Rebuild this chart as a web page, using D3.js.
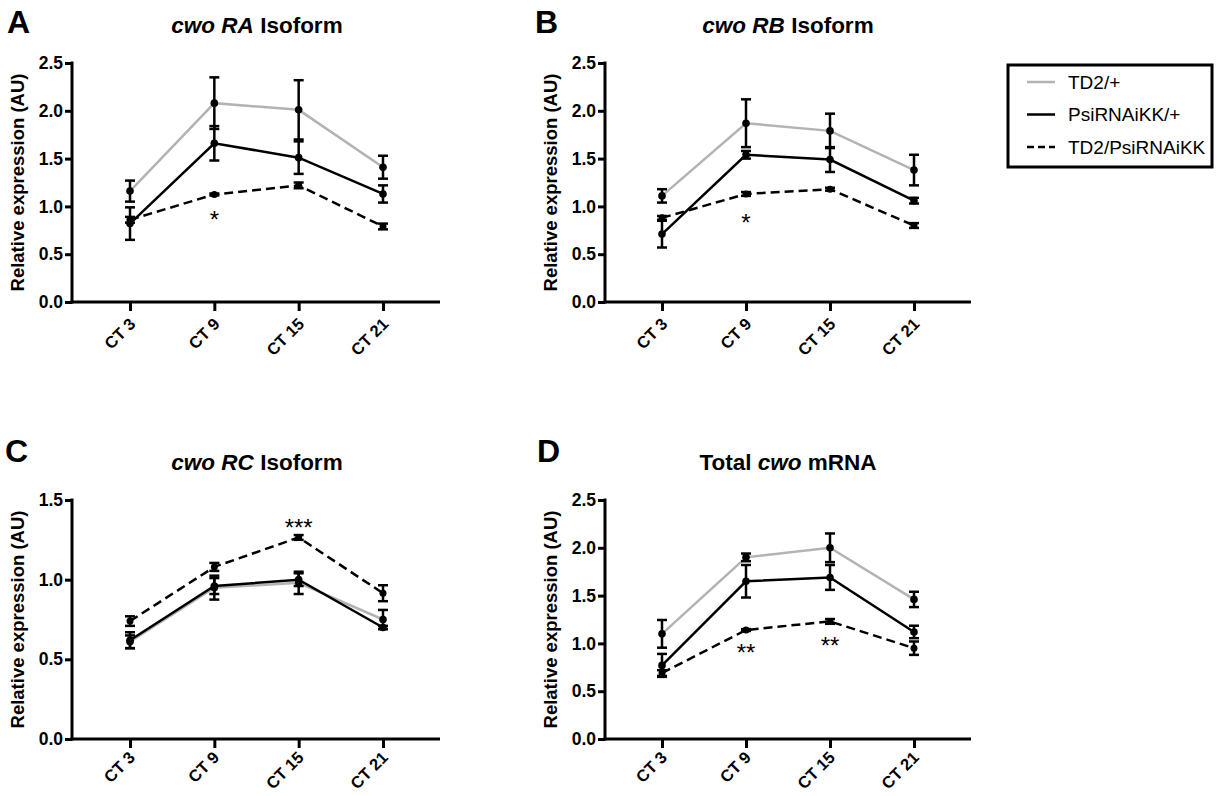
<!DOCTYPE html>
<html>
<head>
<meta charset="utf-8">
<script src="https://cdn.jsdelivr.net/npm/d3@7"></script>
<style>
  html, body { margin: 0; padding: 0; background: #fff; }
  svg { display: block; }
  text { font-family: "Liberation Sans", Arial, sans-serif; }
</style>
</head>
<body>
<svg id="chart" width="1217" height="796"></svg>
<script>
// ---------------- DATA ----------------
const categories = ["CT 3", "CT 9", "CT 15", "CT 21"];
const seriesNames = ["TD2/+", "PsiRNAiKK/+", "TD2/PsiRNAiKK"];

// Panel A: cwo RA isoform
const A_td2      = [1.16, 2.08, 2.01, 1.41];
const A_td2_sem  = [0.11, 0.27, 0.31, 0.12];
const A_psi      = [0.82, 1.66, 1.51, 1.13];
const A_psi_sem  = [0.17, 0.18, 0.17, 0.09];
const A_cross    = [0.86, 1.125, 1.22, 0.79];
const A_cross_sem= [0.03, 0.01, 0.03, 0.03];

// Panel B: cwo RB isoform
const B_td2      = [1.11, 1.87, 1.79, 1.38];
const B_td2_sem  = [0.07, 0.25, 0.18, 0.16];
const B_psi      = [0.71, 1.54, 1.49, 1.06];
const B_psi_sem  = [0.14, 0.04, 0.13, 0.03];
const B_cross    = [0.88, 1.13, 1.18, 0.80];
const B_cross_sem= [0.02, 0.02, 0.015, 0.025];

// Panel C: cwo RC isoform
const C_td2      = [0.61, 0.95, 0.98, 0.75];
const C_td2_sem  = [0.04, 0.075, 0.07, 0.06];
const C_psi      = [0.62, 0.96, 1.00, 0.70];
const C_psi_sem  = [0.05, 0.05, 0.04, 0.01];
const C_cross    = [0.74, 1.08, 1.265, 0.915];
const C_cross_sem= [0.03, 0.025, 0.015, 0.05];

// Panel D: total cwo mRNA
const D_td2      = [1.10, 1.90, 2.00, 1.46];
const D_td2_sem  = [0.145, 0.04, 0.15, 0.08];
const D_psi      = [0.77, 1.65, 1.69, 1.12];
const D_psi_sem  = [0.12, 0.17, 0.13, 0.065];
const D_cross    = [0.69, 1.14, 1.23, 0.95];
const D_cross_sem= [0.03, 0.01, 0.025, 0.07];

const ticks25 = [0, 0.5, 1.0, 1.5, 2.0, 2.5];
const ticks15 = [0, 0.5, 1.0, 1.5];

// significance marks: category index, value position, label
const A_sig = [{i: 1, v: 0.905, t: "*"}];
const B_sig = [{i: 1, v: 0.88, t: "*"}];
const C_sig = [{i: 2, v: 1.356, t: "***"}];
const D_sig = [{i: 1, v: 0.95, t: "**"}, {i: 2, v: 1.03, t: "**"}];

// ---------------- LAYOUT ----------------
const panels = [
  {letter: "A", title: [["cwo RA", true], [" Isoform", false]],
   series: [[A_td2, A_td2_sem], [A_psi, A_psi_sem], [A_cross, A_cross_sem]], sig: A_sig,
   ax: 72, axEnd: 440, p0: 130, p1: 383, yTop: 63, yBot: 302, ymax: 2.5, ticks: ticks25,
   letterX: 7, titleX: 257, titleY: 33, letterY: 33, lblDx: 6, lblDy: 23},
  {letter: "B", title: [["cwo RB", true], [" Isoform", false]],
   series: [[B_td2, B_td2_sem], [B_psi, B_psi_sem], [B_cross, B_cross_sem]], sig: B_sig,
   ax: 605, axEnd: 971, p0: 662, p1: 914, yTop: 63, yBot: 302, ymax: 2.5, ticks: ticks25,
   letterX: 535, titleX: 788, titleY: 33, letterY: 33, lblDx: 6, lblDy: 23},
  {letter: "C", title: [["cwo RC", true], [" Isoform", false]],
   series: [[C_td2, C_td2_sem], [C_psi, C_psi_sem], [C_cross, C_cross_sem]], sig: C_sig,
   ax: 72, axEnd: 440, p0: 130, p1: 383, yTop: 500, yBot: 739, ymax: 1.5, ticks: ticks15,
   letterX: 5, titleX: 257, titleY: 470, letterY: 462, lblDx: 5.5, lblDy: 19.5},
  {letter: "D", title: [["Total ", false], ["cwo", true], [" mRNA", false]],
   series: [[D_td2, D_td2_sem], [D_psi, D_psi_sem], [D_cross, D_cross_sem]], sig: D_sig,
   ax: 605, axEnd: 971, p0: 662, p1: 914, yTop: 500, yBot: 739, ymax: 2.5, ticks: ticks25,
   letterX: 537, titleX: 788, titleY: 470, letterY: 462, lblDx: 5.5, lblDy: 19.5}
];

const styles = [
  {stroke: "#b3b3b3", dash: null, r: 3.8},
  {stroke: "#000", dash: null, r: 3.8},
  {stroke: "#000", dash: "9,5", r: 3.5}
];

const svg = d3.select("#chart");

panels.forEach(p => {
  const g = svg.append("g");
  const x = d3.scalePoint().domain(categories).range([p.p0, p.p1]);
  const y = d3.scaleLinear().domain([0, p.ymax]).range([p.yBot, p.yTop]);

  // panel letter
  g.append("text").attr("x", p.letterX).attr("y", p.letterY)
    .attr("font-size", 32).attr("font-weight", "bold").text(p.letter);

  // title
  const t = g.append("text").attr("x", p.titleX).attr("y", p.titleY)
    .attr("text-anchor", "middle").attr("font-size", 22.5).attr("font-weight", "bold");
  p.title.forEach(([s, it]) => t.append("tspan").attr("font-style", it ? "italic" : "normal").text(s));

  // y axis
  const yAxis = d3.axisLeft(y).tickValues(p.ticks).tickFormat(d3.format(".1f"))
    .tickSize(7).tickPadding(2);
  const yg = g.append("g").attr("transform", `translate(${p.ax},0)`).call(yAxis);
  yg.select(".domain").remove();
  yg.selectAll(".tick line").attr("stroke", "#000").attr("stroke-width", 3);
  yg.selectAll(".tick text").attr("font-size", 17.5).attr("font-weight", "bold")
    .attr("fill", "#000").attr("font-family", "Liberation Sans, Arial, sans-serif");
  g.append("line").attr("x1", p.ax).attr("x2", p.ax)
    .attr("y1", y(p.ymax) - 1.5).attr("y2", p.yBot + 1.5)
    .attr("stroke", "#000").attr("stroke-width", 3);

  // x axis
  const xAxis = d3.axisBottom(x).tickSize(9).tickPadding(0);
  const xg = g.append("g").attr("transform", `translate(0,${p.yBot})`).call(xAxis);
  xg.select(".domain").remove();
  xg.selectAll(".tick line").attr("stroke", "#000").attr("stroke-width", 3);
  xg.selectAll(".tick text").attr("font-size", 16.5).attr("font-weight", "bold")
    .attr("fill", "#000").attr("font-family", "Liberation Sans, Arial, sans-serif")
    .attr("text-anchor", "end").attr("x", 0).attr("y", 0).attr("dy", null)
    .attr("transform", `translate(${p.lblDx},${p.lblDy}) rotate(-45)`);
  g.append("line").attr("x1", p.ax - 1.5).attr("x2", p.axEnd)
    .attr("y1", p.yBot).attr("y2", p.yBot)
    .attr("stroke", "#000").attr("stroke-width", 3);

  // y label
  g.append("text")
    .attr("transform", `translate(${p.ax - 48},${(p.yTop + p.yBot) / 2}) rotate(-90)`)
    .attr("text-anchor", "middle").attr("font-size", 18.5).attr("font-weight", "bold")
    .text("Relative expression (AU)");

  // lines
  const line = d3.line().x((d, i) => x(categories[i])).y(d => y(d));
  p.series.forEach(([vals], si) => {
    g.append("path").datum(vals).attr("d", line)
      .attr("fill", "none").attr("stroke", styles[si].stroke).attr("stroke-width", 2.5)
      .attr("stroke-dasharray", styles[si].dash);
  });

  // error bars
  p.series.forEach(([vals, sems]) => {
    vals.forEach((v, i) => {
      const cx = x(categories[i]);
      const lo = y(v - sems[i]), hi = y(v + sems[i]);
      g.append("line").attr("x1", cx).attr("x2", cx).attr("y1", lo).attr("y2", hi)
        .attr("stroke", "#000").attr("stroke-width", 2.5);
      [lo, hi].forEach(yy => g.append("line").attr("x1", cx - 5).attr("x2", cx + 5)
        .attr("y1", yy).attr("y2", yy).attr("stroke", "#000").attr("stroke-width", 2.5));
    });
  });

  // points
  p.series.forEach(([vals], si) => {
    g.selectAll(null).data(vals).enter().append("circle")
      .attr("cx", (d, i) => x(categories[i])).attr("cy", d => y(d))
      .attr("r", styles[si].r).attr("fill", "#000");
  });

  // significance
  p.sig.forEach(s => {
    g.append("text").attr("x", x(categories[s.i])).attr("y", y(s.v) + 13)
      .attr("text-anchor", "middle").attr("font-size", 24).text(s.t);
  });
});

// ---------------- LEGEND ----------------
const lg = svg.append("g");
lg.append("rect").attr("x", 1008).attr("y", 65).attr("width", 204).attr("height", 102)
  .attr("fill", "#fff").attr("stroke", "#000").attr("stroke-width", 3);
const legendY = d3.scalePoint().domain(seriesNames).range([82, 147]);
seriesNames.forEach((n, i) => {
  const yy = legendY(n);
  lg.append("line").attr("x1", 1027).attr("x2", 1055).attr("y1", yy).attr("y2", yy)
    .attr("stroke", styles[i].stroke).attr("stroke-width", 2.5)
    .attr("stroke-dasharray", i === 2 ? "7,4" : null);
  lg.append("text").attr("x", 1068).attr("y", yy).attr("dy", "0.36em")
    .attr("font-size", 19).text(n);
});
</script>
</body>
</html>
